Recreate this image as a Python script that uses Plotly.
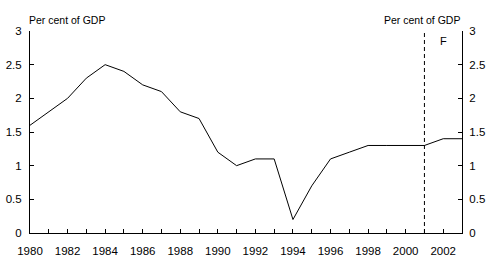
import plotly.graph_objects as go

years = list(range(1980, 2004))
values = [1.6, 1.8, 2.0, 2.3, 2.5, 2.4, 2.2, 2.1, 1.8, 1.7, 1.2, 1.0,
          1.1, 1.1, 0.2, 0.7, 1.1, 1.2, 1.3, 1.3, 1.3, 1.3, 1.4, 1.4]
forecast_year = 2001
y_ticks = [0, 0.5, 1, 1.5, 2, 2.5, 3]
y_ticktext = ["0", "0.5", "1", "1.5", "2", "2.5", "3"]
x_ticktext = [str(y) if y % 2 == 0 else "" for y in years]

font = "Liberation Sans, Arial, sans-serif"

fig = go.Figure()
fig.add_trace(go.Scatter(x=years, y=values, mode="lines",
                         line=dict(color="black", width=1), showlegend=False,
                         hoverinfo="skip"))
fig.add_trace(go.Scatter(x=[forecast_year, forecast_year], y=[0, 3], mode="lines",
                         line=dict(color="black", width=1, dash="4px,3px"),
                         showlegend=False, hoverinfo="skip"))
fig.add_trace(go.Scatter(x=[None], y=[None], yaxis="y2", showlegend=False))

axis_common = dict(showgrid=False, zeroline=False, showline=True, linecolor="black",
                   linewidth=1, ticks="inside", tickcolor="black", ticklen=4,
                   automargin=False,
                   tickfont=dict(family=font, size=11.5, color="black"))

fig.update_layout(
    width=492, height=265,
    margin=dict(l=30, r=30, t=31, b=32),
    paper_bgcolor="white", plot_bgcolor="white",
    xaxis=dict(range=[1980, 2003], tickmode="array", tickvals=years,
               ticktext=x_ticktext, ticklabelstandoff=7, **axis_common),
    yaxis=dict(range=[0, 3], tickmode="array", tickvals=y_ticks,
               ticktext=y_ticktext, ticklabelstandoff=5, **axis_common),
    yaxis2=dict(range=[0, 3], tickmode="array", tickvals=y_ticks,
                ticktext=y_ticktext, overlaying="y", side="right",
                ticklabelstandoff=4, **axis_common),
    annotations=[
        dict(text="Per cent of GDP", xref="paper", yref="paper", x=0, y=1,
             xanchor="left", yanchor="bottom", yshift=3, xshift=-3, showarrow=False,
             font=dict(family=font, size=10.5, color="black")),
        dict(text="Per cent of GDP", xref="paper", yref="paper", x=1, y=1,
             xanchor="right", yanchor="bottom", yshift=3, showarrow=False,
             font=dict(family=font, size=10.5, color="black")),
        dict(text="F", x=2002, y=2.85, xref="x", yref="y", showarrow=False,
             font=dict(family=font, size=11, color="black")),
    ],
)

fig.write_html("out.html")
